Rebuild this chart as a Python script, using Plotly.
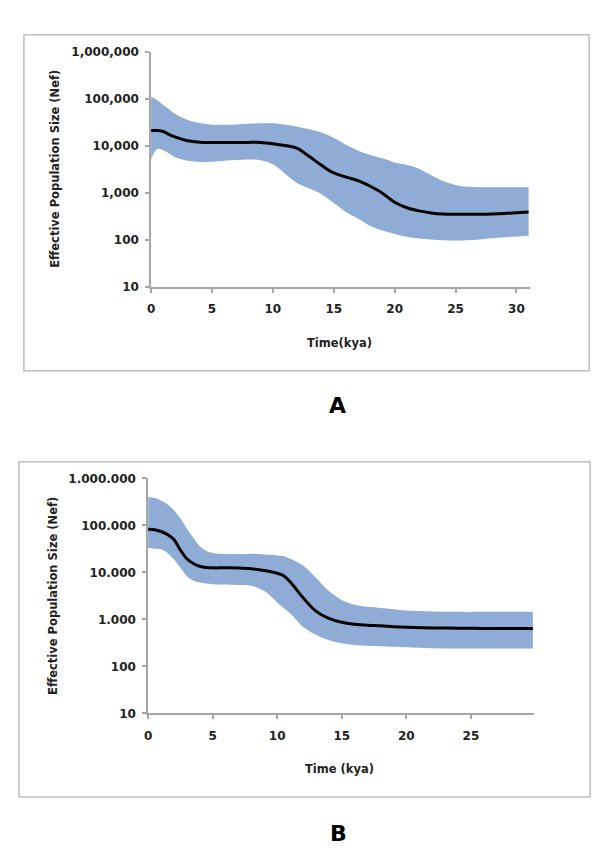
import plotly.graph_objects as go

W, H = 600, 863

# ---------------- Data: panel A ----------------
time_a = [0, 0.5, 1, 1.5, 2, 3, 4, 5, 6, 7, 8, 9, 10, 11, 12, 13, 14, 15, 16, 17, 18,
          19, 20, 21, 22, 23, 24, 25, 26, 27, 28, 29, 30, 31]
mean_a = [21500, 21500, 20500, 17500, 15500, 13000, 12100, 12000, 12000, 12000, 12000,
          12000, 11300, 10300, 9000, 6000, 3900, 2700, 2200, 1850, 1400, 1000, 640, 490,
          420, 380, 360, 355, 355, 355, 360, 370, 385, 400]
upper_a = [112000, 95000, 75000, 60000, 48000, 36000, 31000, 28500, 28500, 29000, 30000,
           30500, 30500, 28500, 26000, 23000, 19500, 15000, 10700, 8000, 6500, 5500, 4500,
           4000, 3300, 2400, 1800, 1500, 1370, 1340, 1330, 1330, 1330, 1330]
lower_a = [5200, 8700, 8200, 7000, 5800, 4900, 4600, 4650, 4900, 5100, 5200, 5000, 4100,
           2600, 1650, 1250, 950, 620, 400, 285, 200, 160, 135, 118, 108, 104, 100, 98,
           100, 104, 110, 115, 120, 125]

# ---------------- Data: panel B ----------------
time_b = [0, 0.5, 1, 1.5, 2, 2.5, 3, 3.5, 4, 4.5, 5, 6, 7, 8, 9, 10, 10.5, 11, 12, 13,
          14, 15, 16, 17, 18, 19, 20, 22, 24, 26, 28, 29.8]
mean_b = [83000, 81000, 74000, 64000, 50000, 30000, 19500, 15500, 13500, 12700, 12500,
          12500, 12400, 12000, 11000, 9600, 8500, 6300, 2900, 1500, 1050, 870, 790, 750,
          730, 700, 680, 660, 650, 645, 640, 640]
upper_b = [400000, 380000, 340000, 280000, 210000, 140000, 85000, 55000, 36000, 29000,
           26000, 24500, 24500, 25000, 24000, 23000, 22000, 19500, 14000, 7700, 4000, 2600,
           2050, 1850, 1750, 1650, 1550, 1480, 1450, 1450, 1450, 1450]
lower_b = [33000, 32000, 31000, 26000, 19000, 12500, 8300, 6700, 6100, 5800, 5600, 5500,
           5400, 5200, 4000, 2300, 1750, 1350, 700, 470, 360, 310, 285, 275, 270, 262, 255,
           245, 240, 240, 240, 240]

y_tickvals = [10, 100, 1000, 10000, 100000, 1000000]
y_ticktext_a = ["10", "100", "1,000", "10,000", "100,000", "1,000,000"]
y_ticktext_b = ["10", "100", "1.000", "10.000", "100.000", "1.000.000"]
x_tickvals_a = [0, 5, 10, 15, 20, 25, 30]
x_tickvals_b = [0, 5, 10, 15, 20, 25]

BAND = "rgb(143,172,215)"
AXIS = "#a6a6a6"
FONT = "DejaVu Sans"


def px_x(p):
    return p / W


def px_y(p):
    return 1 - p / H


fig = go.Figure()


def add_panel(t, lo, hi, mu, xa, ya):
    fig.add_trace(go.Scatter(x=t, y=lo, mode="lines", line=dict(width=0, shape="spline"),
                             xaxis=xa, yaxis=ya, showlegend=False, hoverinfo="skip"))
    fig.add_trace(go.Scatter(x=t, y=hi, mode="lines", line=dict(width=0, shape="spline"),
                             fill="tonexty", fillcolor=BAND,
                             xaxis=xa, yaxis=ya, showlegend=False, hoverinfo="skip"))
    fig.add_trace(go.Scatter(x=t, y=mu, mode="lines",
                             line=dict(color="black", width=3, shape="spline"),
                             xaxis=xa, yaxis=ya, showlegend=False))


add_panel(time_a, lower_a, upper_a, mean_a, "x", "y")
add_panel(time_b, lower_b, upper_b, mean_b, "x2", "y2")

tick_font = dict(family=FONT, size=12, color="#222", weight="bold")

common_x = dict(showgrid=False, zeroline=False, showline=True, linecolor=AXIS, linewidth=1.5,
                ticks="outside", ticklen=4, tickcolor=AXIS, tickwidth=1.5,
                tickfont=tick_font, ticklabelstandoff=6)
common_y = dict(type="log", range=[1, 6], tickvals=y_tickvals, showgrid=False, zeroline=False,
                showline=True, linecolor=AXIS, linewidth=1.5, ticks="outside", ticklen=4,
                tickcolor=AXIS, tickwidth=1.5, tickfont=tick_font, ticklabelstandoff=4)

fig.update_layout(
    width=W, height=H, margin=dict(l=0, r=0, t=0, b=0),
    paper_bgcolor="white", plot_bgcolor="white",
    xaxis=dict(domain=[px_x(140), px_x(521.3)], range=[0, 31.1], tickvals=x_tickvals_a,
               anchor="y", **common_x),
    yaxis=dict(domain=[px_y(276.7), px_y(37.7)], ticktext=y_ticktext_a, anchor="x", **common_y),
    xaxis2=dict(domain=[px_x(137), px_x(525)], range=[0, 29.85], tickvals=x_tickvals_b,
                anchor="y2", **common_x),
    yaxis2=dict(domain=[px_y(710), px_y(471)], ticktext=y_ticktext_b, anchor="x2", **common_y),
)

# chart frames
for x0, x1, y0, y1 in [(12, 581, 20, 361.5), (7, 582, 454, 795)]:
    fig.add_shape(type="rect", xref="paper", yref="paper",
                  x0=px_x(x0), x1=px_x(x1), y0=px_y(y1), y1=px_y(y0),
                  line=dict(color="#bfbfbf", width=1.5), fillcolor="rgba(0,0,0,0)", layer="below")

title_font = dict(family=FONT, size=11.5, color="#222")
annots = [
    ("Time(kya)", 330, 333, 0),
    ("Time (kya)", 330, 766.7, 0),
    ("Effective Population Size (Nef)", 43, 156.7, -90),
    ("Effective Population Size (Nef)", 41, 590.8, -90),
]
for text, x, y, ang in annots:
    fig.add_annotation(text="<b>%s</b>" % text, x=px_x(x), y=px_y(y), xref="paper", yref="paper",
                       showarrow=False, textangle=ang, font=title_font,
                       xanchor="center", yanchor="middle")

for text, x, y in [("A", 328, 396.5), ("B", 329, 831.5)]:
    fig.add_annotation(text="<b>%s</b>" % text, x=px_x(x), y=px_y(y), xref="paper", yref="paper",
                       showarrow=False, font=dict(family=FONT, size=22, color="black"),
                       xanchor="center", yanchor="middle")

fig.write_html("out.html")
